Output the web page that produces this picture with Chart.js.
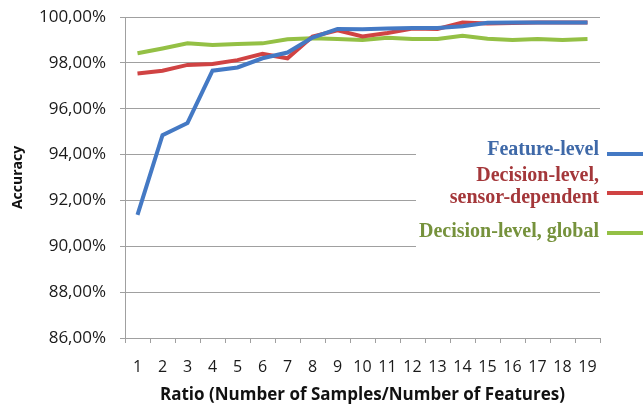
<!DOCTYPE html>
<html>
<head>
<meta charset="utf-8">
<script src="https://cdn.jsdelivr.net/npm/chart.js@4/dist/chart.umd.min.js"></script>
<style>
  body { margin: 0; background: #fff; }
  #wrap { width: 643px; height: 409px; }
</style>
</head>
<body>
<div id="wrap"><canvas id="chart" width="643" height="409"></canvas></div>
<script>
// ratio categories
const ratios = ['1','2','3','4','5','6','7','8','9','10','11','12','13','14','15','16','17','18','19'];

// accuracy (%) per ratio
const featureLevel = [91.37, 94.85, 95.38, 97.66, 97.8, 98.2, 98.45, 99.1, 99.48, 99.47, 99.5, 99.52, 99.52, 99.6, 99.75, 99.76, 99.76, 99.76, 99.76];
const decisionSensor = [97.54, 97.66, 97.91, 97.95, 98.12, 98.39, 98.2, 99.15, 99.42, 99.15, 99.3, 99.5, 99.48, 99.76, 99.72, 99.74, 99.76, 99.76, 99.76];
const decisionGlobal = [98.42, 98.63, 98.85, 98.78, 98.82, 98.85, 99.03, 99.07, 99.04, 99.0, 99.1, 99.04, 99.04, 99.18, 99.05, 99.0, 99.04, 99.0, 99.04];

const seriesNames = ['Feature-level', 'Decision-level,\nsensor-dependent', 'Decision-level, global'];
const lineColors = ['#4479c4', '#d04343', '#94c045'];
const textColors = ['#3f69a8', '#a4373a', '#76923c'];

// legend sits inside the plot on a white box, like the original
const legendPlugin = {
    id: 'sideLegend',
    afterDraw(chart) {
        const ctx = chart.ctx;
        ctx.save();
        ctx.fillStyle = '#fff';
        ctx.fillRect(416, 134, 227, 116);
        ctx.font = 'bold 20px "Liberation Serif"';
        ctx.textAlign = 'right';
        ctx.textBaseline = 'alphabetic';
        const baselines = [[155], [181, 203], [237]];
        const lineY = [154, 193, 233];
        seriesNames.forEach((name, i) => {
            ctx.fillStyle = textColors[i];
            name.split('\n').forEach((part, j) => ctx.fillText(part, 599, baselines[i][j]));
            ctx.strokeStyle = lineColors[i];
            ctx.lineWidth = 4;
            ctx.beginPath();
            ctx.moveTo(607, lineY[i]);
            ctx.lineTo(643, lineY[i]);
            ctx.stroke();
        });
        ctx.restore();
    }
};

const ctx = document.getElementById('chart').getContext('2d');
new Chart(ctx, {
    type: 'line',
    data: {
        labels: ratios,
        datasets: [
            { label: 'Feature-level', data: featureLevel, borderColor: lineColors[0] },
            { label: 'Decision-level, sensor-dependent', data: decisionSensor, borderColor: lineColors[1] },
            { label: 'Decision-level, global', data: decisionGlobal, borderColor: lineColors[2] }
        ]
    },
    options: {
        responsive: false,
        animation: false,
        layout: { padding: { left: 0, right: 43, top: 17, bottom: 0 } },
        elements: {
            line: { borderWidth: 4, tension: 0 },
            point: { radius: 0 }
        },
        plugins: {
            legend: { display: false },
            tooltip: { enabled: false }
        },
        scales: {
            x: {
                offset: true,
                grid: { offset: true, drawOnChartArea: false, color: '#a0a0a0', tickLength: 5 },
                border: { color: '#a0a0a0' },
                ticks: { color: '#1a1a1a', font: { family: '"Open Sans"', size: 16 }, padding: 15, maxRotation: 0, autoSkip: false },
                title: { display: true, text: 'Ratio (Number of Samples/Number of Features)', color: '#111',
                         font: { family: '"Open Sans"', size: 17, weight: 'bold' }, padding: { top: 0, bottom: 4 } },
                afterFit(scale) {
                    scale.height = 71;
                    scale.paddingLeft = 0;
                    scale.paddingRight = 0;
                }
            },
            y: {
                min: 86,
                max: 100,
                grid: { color: '#a0a0a0', tickLength: 5 },
                border: { color: '#a0a0a0' },
                ticks: {
                    stepSize: 2,
                    color: '#1a1a1a',
                    font: { family: '"Open Sans"', size: 17 },
                    padding: 14,
                    callback: v => v.toFixed(2).replace('.', ',') + '%'
                },
                title: { display: true, text: 'Accuracy', color: '#111',
                         font: { family: '"Open Sans"', size: 14, weight: 'bold' }, padding: { top: 10, bottom: 0 } },
                afterFit(scale) {
                    scale.width = 125;
                    scale.paddingTop = 0;
                    scale.paddingBottom = 0;
                }
            }
        }
    },
    plugins: [legendPlugin]
});
</script>
</body>
</html>
